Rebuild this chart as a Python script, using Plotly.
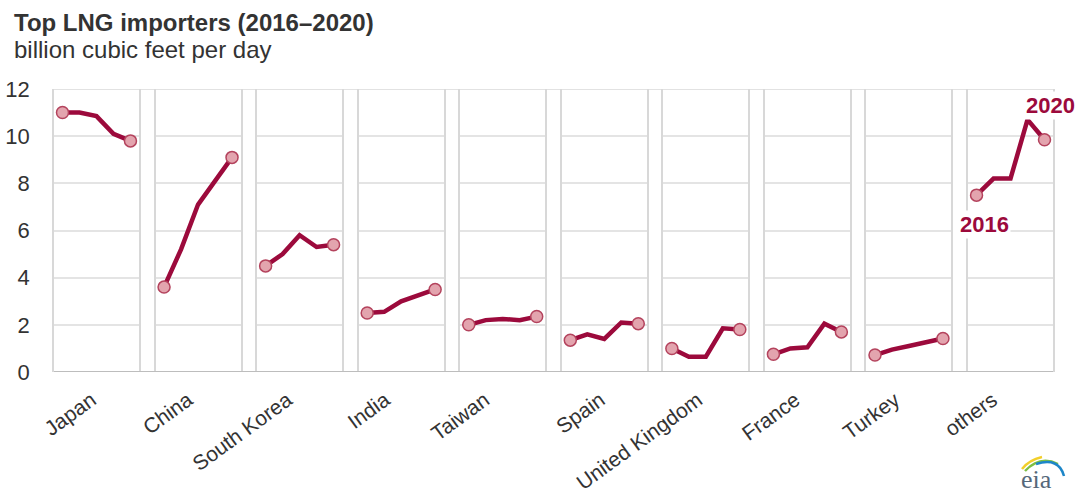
import plotly.graph_objects as go
from plotly.subplots import make_subplots

# Top LNG importers, billion cubic feet per day, 2016-2020
years = [2016, 2017, 2018, 2019, 2020]
countries = ["Japan", "China", "South Korea", "India", "Taiwan",
             "Spain", "United Kingdom", "France", "Turkey", "others"]
japan = [11.0, 11.0, 10.85, 10.1, 9.8]
china = [3.6, 5.2, 7.1, 8.1, 9.1]
south_korea = [4.5, 5.0, 5.8, 5.3, 5.4]
india = [2.5, 2.55, 3.0, 3.25, 3.5]
taiwan = [2.0, 2.2, 2.25, 2.2, 2.35]
spain = [1.35, 1.6, 1.4, 2.1, 2.05]
united_kingdom = [1.0, 0.65, 0.65, 1.85, 1.8]
france = [0.75, 1.0, 1.05, 2.05, 1.7]
turkey = [0.72, 0.95, 1.1, 1.25, 1.42]
others = [7.5, 8.2, 8.2, 10.7, 9.85]
series = [japan, china, south_korea, india, taiwan,
          spain, united_kingdom, france, turkey, others]
y_ticks = [0, 2, 4, 6, 8, 10, 12]

# per-panel nudge of the rotated category labels (pixels along the axis)
label_shift = [-5, -10, -12, -16, -18, -4, -8, -12, -14, -18]

LINE = "#9c0a3c"
DOT_FILL = "#e3a4ae"
DOT_EDGE = "#b4435d"
GRID = "#e4e4e4"
BORDER = "#d8d8d8"
TEXT = "#333333"

W, H = 1081, 496
ML, MR, MT, MB = 54, 28, 89, 124
PW = W - ML - MR
PH = H - MT - MB

n = len(countries)
fig = make_subplots(rows=1, cols=n, shared_yaxes=True,
                    horizontal_spacing=16.6 / PW)

for i, (name, vals) in enumerate(zip(countries, series)):
    col = i + 1
    fig.add_trace(go.Scatter(x=years, y=vals, mode="lines",
                             line=dict(color=LINE, width=4.5),
                             cliponaxis=False, hoverinfo="skip",
                             showlegend=False), row=1, col=col)
    fig.add_trace(go.Scatter(x=[years[0], years[-1]], y=[vals[0], vals[-1]],
                             mode="markers",
                             marker=dict(size=12, color=DOT_FILL,
                                         line=dict(color=DOT_EDGE, width=1.5)),
                             cliponaxis=False, hoverinfo="skip",
                             showlegend=False), row=1, col=col)
    fig.update_xaxes(range=[2015.5, 2020.5], tickvals=[2018], ticktext=[name],
                     tickangle=-36, showgrid=False, zeroline=False,
                     showline=False, ticks="", automargin=False,
                     ticklabelstandoff=11, ticklabelshift=label_shift[i],
                     tickfont=dict(family="Liberation Sans, Arial", size=21,
                                   color=TEXT),
                     row=1, col=col)
    fig.update_yaxes(range=[0, 12], tickvals=y_ticks, showgrid=True,
                     gridcolor=GRID, gridwidth=1.5, zeroline=False,
                     showline=True, mirror=True, linecolor=BORDER,
                     linewidth=1.5, ticks="", automargin=False,
                     tickfont=dict(family="Liberation Sans, Arial", size=22,
                                   color=TEXT),
                     row=1, col=col)

fig.update_yaxes(ticklabelstandoff=18, row=1, col=1)

# continuous top and bottom rules across all panels
fig.add_shape(type="line", xref="paper", yref="y", x0=0, x1=1, y0=12, y1=12,
              line=dict(color="#d9d9d9", width=1.5), layer="below")
fig.add_shape(type="line", xref="paper", yref="y", x0=0, x1=1, y0=0, y1=0,
              line=dict(color="#bdbdbd", width=2))

# year markers on the last panel
last = n
fig.add_annotation(x=years[-1], y=others[-1], xref=f"x{last}", yref=f"y{last}",
                   text="<b>2020</b>", showarrow=False, xshift=6, yshift=34,
                   bgcolor="white",
                   font=dict(family="Liberation Sans, Arial", size=22,
                             color=LINE))
fig.add_annotation(x=years[0], y=others[0], xref=f"x{last}", yref=f"y{last}",
                   text="<b>2016</b>", showarrow=False, xshift=8, yshift=-29,
                   bgcolor="white",
                   font=dict(family="Liberation Sans, Arial", size=22,
                             color=LINE))


def px(x):
    return (x - ML) / PW


def py(y):
    return (H - MB - y) / PH


# title block
fig.add_annotation(x=px(12), y=py(22), xref="paper", yref="paper",
                   xanchor="left", yanchor="middle", showarrow=False,
                   text="<b>Top LNG importers (2016–2020)</b>",
                   font=dict(family="Liberation Sans, Arial", size=24,
                             color=TEXT))
fig.add_annotation(x=px(12), y=py(50), xref="paper", yref="paper",
                   xanchor="left", yanchor="middle", showarrow=False,
                   text="billion cubic feet per day",
                   font=dict(family="Liberation Sans, Arial", size=24,
                             color=TEXT))

# eia logo
arcs = [
    ("M {} {} Q {} {} {} {}", (1022, 469, 1029, 460, 1042, 457), "#f2cf2a"),
    ("M {} {} Q {} {} {} {}", (1025, 471, 1040, 455, 1058, 464), "#7dbf43"),
    ("M {} {} Q {} {} {} {}", (1036, 464, 1059, 457, 1064, 476), "#1d86c8"),
]
for tmpl, pts, colr in arcs:
    coords = []
    for k in range(0, len(pts), 2):
        coords += [px(pts[k]), py(pts[k + 1])]
    fig.add_shape(type="path", xref="paper", yref="paper",
                  path=tmpl.format(*coords), line=dict(color=colr, width=2.5))
fig.add_annotation(x=px(1036), y=py(479), xref="paper", yref="paper",
                   xanchor="center", yanchor="middle", showarrow=False,
                   text="eia",
                   font=dict(family="Liberation Serif, Times New Roman",
                             size=26, color="#55687a"))

fig.update_layout(width=W, height=H,
                  margin=dict(l=ML, r=MR, t=MT, b=MB),
                  paper_bgcolor="white", plot_bgcolor="white",
                  showlegend=False)

fig.write_html("out.html")
